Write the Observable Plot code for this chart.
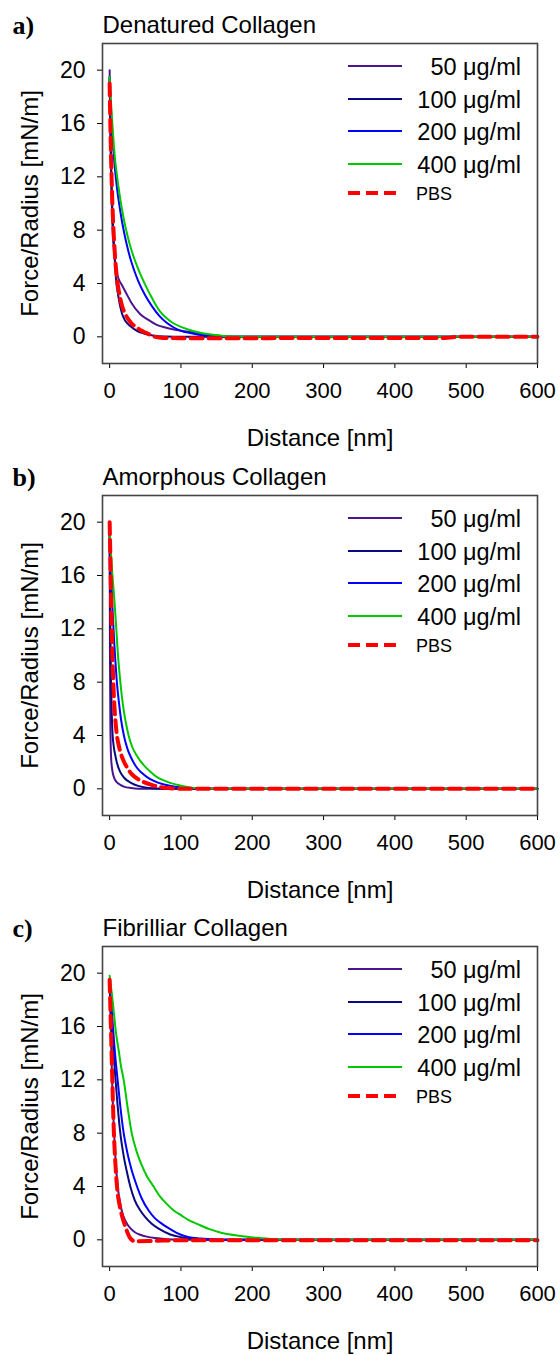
<!DOCTYPE html>
<html><head><meta charset="utf-8">
<script src="https://cdn.jsdelivr.net/npm/d3@7"></script>
<script src="https://cdn.jsdelivr.net/npm/@observablehq/plot@0.6"></script>
<style>
body{margin:0;background:#fff;}
#root{width:560px;position:relative;}
.panel{position:relative;width:560px;overflow:visible;}
.panel svg.leg{position:absolute;left:0;top:0;pointer-events:none;}
</style></head><body><div id="root"></div>
<script>
// ---------- categories / labels ----------
const seriesNames = ["50 \u03BCg/ml", "100 \u03BCg/ml", "200 \u03BCg/ml", "400 \u03BCg/ml", "PBS"];
const seriesColors = ["#4b1590", "#0a0a80", "#0000ff", "#00c800", "#ff0000"];
const panelLetters = ["a)", "b)", "c)"];
const panelTitles = ["Denatured Collagen", "Amorphous Collagen", "Fibrilliar Collagen"];
const xTicks = [0, 100, 200, 300, 400, 500, 600];
const yTicks = [0, 4, 8, 12, 16, 20];
const xLabel = "Distance [nm]";
const yLabel = "Force/Radius [mN/m]";

// ---------- series values: [distance nm, force/radius mN/m] ----------
// a) Denatured collagen
const a50 = [[0,20],[1,16],[2,12.5],[3,10],[4,8.3],[6,6.5],[8,5.5],[10,4.8],[13,4.3],[17,3.9],[24,3.2],[30,2.6],[43,1.7],[55,1.25],[66,0.9],[78,0.7],[90,0.55],[110,0.38],[127,0.25],[145,0.12],[160,0.05],[180,0],[600,0]];
const a100 = [[0,19.5],[1,16],[2,13],[3,11],[4,9.3],[5,8],[7,6],[9,4.3],[12,3.1],[17,1.8],[22,1.2],[28,0.85],[34,0.6],[40,0.4],[48,0.25],[55,0.15],[62,0.08],[80,0.02],[100,0],[600,0]];
const a200 = [[0,19.3],[1,18],[2,16.8],[4,15],[6,13.5],[8,12.3],[10,11.3],[15,9.4],[20,7.9],[25,6.7],[30,5.7],[35,4.9],[40,4.2],[50,3.1],[60,2.25],[70,1.55],[80,1.05],[90,0.7],[100,0.45],[113,0.28],[125,0.15],[140,0.05],[160,0],[600,0]];
const a400 = [[0,19.5],[1,18.5],[2,17.5],[4,15.8],[6,14.3],[8,13.1],[10,12.2],[15,10.3],[20,8.8],[25,7.6],[30,6.6],[35,5.8],[40,5.1],[50,3.9],[60,2.85],[70,1.95],[80,1.4],[90,1.0],[100,0.75],[110,0.55],[127,0.3],[145,0.15],[160,0.07],[180,0.02],[200,0],[600,0]];
const aPBS = [[0,19],[1,16],[2,13.5],[3,11.5],[4,9.8],[6,7.4],[8,5.7],[10,4.5],[13,3.4],[17,2.4],[22,1.7],[30,1.05],[38,0.7],[45,0.45],[55,0.2],[64,0],[75,-0.08],[100,-0.1],[200,-0.1],[300,-0.08],[470,-0.08],[490,0],[600,0]];
// b) Amorphous collagen
const b50 = [[0,19],[0.5,10],[1,5],[2,2.4],[3,1.7],[5,1.05],[8,0.65],[10,0.5],[15,0.3],[20,0.17],[30,0.06],[40,0.01],[60,0],[600,0]];
const b100 = [[0,19],[1,12],[2,8],[3,5.6],[4,4.2],[6,3.1],[8,2.5],[10,2.0],[15,1.25],[20,0.85],[30,0.45],[40,0.22],[50,0.1],[60,0.04],[80,0],[600,0]];
const b200 = [[0,19.5],[1,17.8],[2,16.2],[4,13.5],[6,11.4],[8,9.6],[10,8.1],[13,6.5],[16,5.2],[20,4.0],[25,3.0],[30,2.35],[38,1.6],[45,1.2],[52,0.9],[62,0.6],[75,0.35],[90,0.18],[100,0.1],[120,0.02],[140,0],[600,0]];
const b400 = [[0,19.5],[2,17.6],[4,16],[6.6,14.2],[9.4,12],[12,9.8],[14,8.6],[17,7],[20,5.8],[23,4.9],[26.6,4],[32,3.1],[38,2.5],[43,2.1],[50,1.65],[58,1.25],[66,0.9],[75,0.65],[85,0.45],[99,0.25],[113,0.1],[130,0.03],[150,0],[600,0]];
const bPBS = [[0,20],[1,17.5],[2,14.5],[3,12],[4,9.8],[5,8.2],[6,6.9],[8,5.2],[10,4.1],[13,3.2],[16,2.6],[20,2.05],[25,1.55],[31,1.1],[40,0.72],[48,0.5],[60,0.28],[75,0.1],[90,0.03],[110,0],[600,0]];
// c) Fibrilliar collagen
const c50 = [[0,19.5],[2,15],[4,11],[6,8.3],[8,6.3],[10,4.8],[12,3.7],[15,2.7],[18,2.0],[21,1.55],[25,1.15],[30,0.82],[36,0.55],[43,0.38],[52,0.24],[64,0.13],[80,0.05],[100,0.01],[120,0],[600,0]];
const c100 = [[0,19],[2,17],[4,15.3],[6,13.7],[8,12.2],[11,10.2],[15,8],[20,6.2],[25,4.9],[29,4],[35,3.0],[43,2.2],[50,1.7],[59,1.2],[70,0.8],[85,0.4],[100,0.2],[110,0.12],[125,0.05],[145,0],[600,0]];
const c200 = [[0,19.5],[2,18],[4,16.5],[6,15],[8,13.7],[11.2,12],[15,10],[19.7,8],[25,6.5],[30,5.4],[38.4,4],[45,3.1],[54.7,2.2],[63,1.65],[73.4,1.2],[85,0.8],[99,0.4],[110,0.22],[127,0.1],[150,0.02],[170,0],[600,0]];
const c400 = [[0,19.8],[3,18.5],[6,17],[9,15.5],[12.7,14.2],[16,13],[19.7,12],[25,10],[31,8],[38,6.6],[45,5.6],[53,4.7],[61.7,4],[70,3.3],[80,2.7],[90,2.2],[100,1.85],[110,1.5],[122.5,1.2],[140,0.8],[155,0.55],[169,0.4],[190,0.25],[207,0.15],[230,0.05],[260,0],[600,0]];
const cPBS = [[0,19.5],[1,17.5],[2,15.5],[3,13.5],[4,11.5],[6,8],[8,5.8],[10,4.2],[12,3.2],[14,2.6],[16,2.1],[19,1.5],[22,1.0],[25,0.55],[27,0.3],[30,0.05],[34,-0.08],[40,-0.1],[60,-0.08],[100,-0.03],[600,-0.03]];

const panelSeries = [
  [a50, a100, a200, a400, aPBS],
  [b50, b100, b200, b400, bPBS],
  [c50, c100, c200, c400, cPBS]
];
const panelHeights = [452, 451, 452];

const FONT = "'Liberation Sans', Arial, sans-serif";
const root = document.getElementById("root");

panelSeries.forEach((series, pi) => {
  const rows = [];
  series.forEach((pts, si) => pts.forEach(([d, f]) => rows.push({d, f, s: seriesNames[si]})));
  const solid = rows.filter(r => r.s !== "PBS");
  const pbs = rows.filter(r => r.s === "PBS");
  const H = panelHeights[pi];

  const chart = Plot.plot({
    width: 560,
    height: H,
    marginTop: 43, marginLeft: 102, marginRight: 23, marginBottom: H - 363,
    x: {domain: [-10, 600]},
    y: {domain: [-2, 22]},
    color: {domain: seriesNames, range: seriesColors},
    style: {fontFamily: FONT, fontSize: "22px", color: "#000", background: "#fff", overflow: "visible"},
    marks: [
      Plot.axisX({ticks: xTicks, tickSize: 5, tickPadding: 14, label: null, fontSize: 22, tickFormat: d => String(d)}),
      Plot.axisY({ticks: yTicks, tickSize: 5, tickPadding: 12, label: null, fontSize: 23, tickFormat: d => String(d)}),
      Plot.line(solid, {x: "d", y: "f", z: "s", stroke: "s", strokeWidth: 2, curve: "monotone-x"}),
      Plot.line(pbs, {x: "d", y: "f", stroke: seriesColors[4], strokeWidth: 4, strokeDasharray: "12,6", curve: "monotone-x"}),
      Plot.frame({stroke: "#444", strokeWidth: 1.6}),
      Plot.text([panelLetters[pi]], {text: d => d, frameAnchor: "top-left", dx: -90, dy: -10, textAnchor: "start", lineAnchor: "bottom", fontFamily: "'Liberation Serif', 'Times New Roman', serif", fontWeight: "bold", fontSize: 26}),
      Plot.text([panelTitles[pi]], {text: d => d, frameAnchor: "top-left", dx: 0, dy: -11, textAnchor: "start", lineAnchor: "bottom", fontSize: 24}),
      Plot.text([yLabel], {text: d => d, frameAnchor: "left", dx: -72, rotate: -90, textAnchor: "middle", lineAnchor: "middle", fontSize: 24}),
      Plot.text([xLabel], {text: d => d, frameAnchor: "bottom", dy: 75, textAnchor: "middle", lineAnchor: "middle", fontSize: 24})
    ]
  });

  const div = document.createElement("div");
  div.className = "panel";
  div.style.height = H + "px";
  div.appendChild(chart);

  // legend overlay
  const leg = d3.select(div).append("svg").attr("class", "leg").attr("width", 560).attr("height", H)
    .style("font-family", FONT);
  const rowY = [66, 99, 131, 164, 193];
  seriesNames.forEach((name, i) => {
    const isPBS = name === "PBS";
    leg.append("line").attr("x1", 348).attr("x2", 402).attr("y1", rowY[i]).attr("y2", rowY[i])
      .attr("stroke", seriesColors[i]).attr("stroke-width", isPBS ? 4 : 2)
      .attr("stroke-dasharray", isPBS ? "12,6" : null);
    leg.append("text").text(name)
      .attr("x", isPBS ? 416 : 521).attr("y", rowY[i] + (isPBS ? 6.5 : 8.5))
      .attr("text-anchor", isPBS ? "start" : "end")
      .attr("font-size", isPBS ? 18 : 23.5).attr("fill", "#000");
  });
  root.appendChild(div);
});
</script></body></html>
